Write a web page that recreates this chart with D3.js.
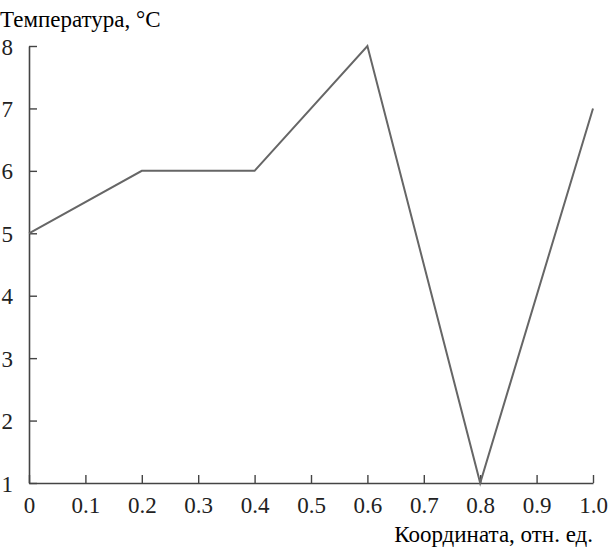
<!DOCTYPE html>
<html><head><meta charset="utf-8">
<script src="https://cdn.jsdelivr.net/npm/d3@7"></script>
</head><body style="margin:0"><svg id="c" width="608" height="549" font-family="Times New Roman" style="display:block;background:#fff"></svg>
<script>
const xValues = [0, 0.2, 0.4, 0.6, 0.8, 1.0];
const yValues = [5, 6, 6, 8, 1, 7];
const xTicks = [0, 0.1, 0.2, 0.3, 0.4, 0.5, 0.6, 0.7, 0.8, 0.9, 1.0];
const yTicks = [1, 2, 3, 4, 5, 6, 7, 8];
const yTitle = "Температура, °C";
const xTitle = "Координата, отн. ед.";

const svg = d3.select("#c");
const FONT = "Times New Roman";
const mLeft = 29, mRight = 593, mTop = 46, mBottom = 483;
const xScale = d3.scaleLinear().domain([0, 1]).range([mLeft, mRight]);
const yScale = d3.scaleLinear().domain([1, 8]).range([mBottom, mTop]);
const fs = 23;
const axisColor = "#444";

svg.append("text").attr("x", 0).attr("y", 27).attr("font-family", FONT).attr("font-size", fs).text(yTitle);
svg.append("text").attr("x", 593).attr("y", 542).attr("text-anchor", "end").attr("font-family", FONT).attr("font-size", fs).text(xTitle);

const xAxis = svg.append("g").attr("transform", `translate(0,${mBottom})`)
  .call(d3.axisBottom(xScale).tickValues(xTicks).tickSizeInner(-8).tickSizeOuter(0)
    .tickFormat(d => d === 1 ? "1.0" : String(d)).tickPadding(14));
const yAxis = svg.append("g").attr("transform", `translate(${mLeft},0)`)
  .call(d3.axisLeft(yScale).tickValues(yTicks).tickFormat(d => String(d)).tickSizeInner(-8).tickSizeOuter(0).tickPadding(16));
[xAxis, yAxis].forEach(g => {
  g.attr("font-family", FONT).attr("font-size", fs);
  g.select(".domain").attr("stroke", axisColor).attr("stroke-width", 1.6);
  g.selectAll(".tick line").attr("stroke", axisColor).attr("stroke-width", 1.4);
  g.selectAll("text").attr("font-family", FONT).attr("fill", "#222");
});
yAxis.selectAll(".tick text").attr("dy", "0.35em");

svg.append("path")
  .datum(xValues.map((v, i) => [v, yValues[i]]))
  .attr("fill", "none").attr("stroke", "#666").attr("stroke-width", 2)
  .attr("d", d3.line().x(d => xScale(d[0])).y(d => yScale(d[1])));
</script></body></html>
